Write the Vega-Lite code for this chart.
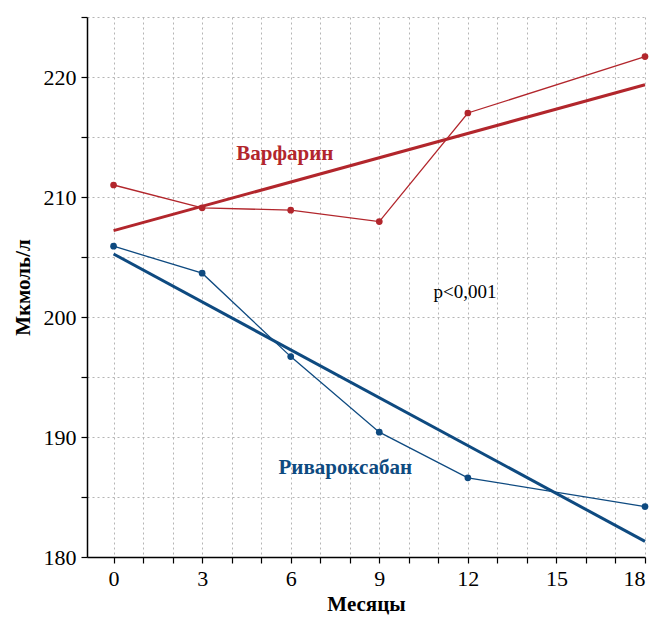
{
  "$schema": "https://vega.github.io/schema/vega-lite/v6.json",
  "autosize": "none",
  "width": 558,
  "height": 540,
  "padding": {"left": 87, "top": 17, "right": 12, "bottom": 60},
  "background": "white",
  "config": {
    "view": {"stroke": null},
    "font": "Liberation Serif",
    "axis": {
      "domainColor": "black",
      "domainWidth": 1.5,
      "tickColor": "black",
      "tickWidth": 1.2,
      "tickSize": 6,
      "gridColor": "#b5b5b5",
      "gridDash": [2, 3],
      "gridWidth": 1,
      "labelFont": "Liberation Serif",
      "labelFontSize": 22,
      "labelColor": "black",
      "titleFont": "Liberation Serif",
      "titleFontSize": 21,
      "titleFontWeight": "bold",
      "titleColor": "black"
    }
  },
  "datasets": {
    "obs": [
      {"month": 0, "value": 211.0, "group": "Варфарин"},
      {"month": 3, "value": 209.1, "group": "Варфарин"},
      {"month": 6, "value": 208.9, "group": "Варфарин"},
      {"month": 9, "value": 207.95, "group": "Варфарин"},
      {"month": 12, "value": 217.0, "group": "Варфарин"},
      {"month": 18, "value": 221.7, "group": "Варфарин"},
      {"month": 0, "value": 205.9, "group": "Ривароксабан"},
      {"month": 3, "value": 203.65, "group": "Ривароксабан"},
      {"month": 6, "value": 196.7, "group": "Ривароксабан"},
      {"month": 9, "value": 190.4, "group": "Ривароксабан"},
      {"month": 12, "value": 186.6, "group": "Ривароксабан"},
      {"month": 18, "value": 184.2, "group": "Ривароксабан"}
    ],
    "trend": [
      {"month": 0, "value": 207.2, "group": "Варфарин"},
      {"month": 18, "value": 219.35, "group": "Варфарин"},
      {"month": 0, "value": 205.25, "group": "Ривароксабан"},
      {"month": 18, "value": 181.3, "group": "Ривароксабан"}
    ],
    "labels": [
      {"month": 5.8, "value": 213.6, "text": "Варфарин", "group": "Варфарин"},
      {"month": 7.85, "value": 187.4, "text": "Ривароксабан", "group": "Ривароксабан"}
    ],
    "pval": [
      {"month": 11.9, "value": 202.1, "text": "p<0,001"}
    ]
  },
  "encoding": {
    "x": {
      "field": "month",
      "type": "quantitative",
      "scale": {"domain": [-0.9, 18], "nice": false, "zero": false},
      "axis": {
        "title": "Месяцы",
        "values": [0,1,2,3,4,5,6,7,8,9,10,11,12,13,14,15,16,17,18],
        "labelExpr": "datum.value % 3 === 0 ? datum.label : ''",
        "labelPadding": 5,
        "titlePadding": 4
      }
    },
    "y": {
      "field": "value",
      "type": "quantitative",
      "scale": {"domain": [180, 225], "nice": false, "zero": false},
      "axis": {
        "title": "Мкмоль/л",
        "values": [180,185,190,195,200,205,210,215,220,225],
        "labelExpr": "datum.value % 10 === 0 ? datum.label : ''",
        "labelPadding": 5,
        "titlePadding": 10
      }
    },
    "color": {
      "field": "group",
      "type": "nominal",
      "scale": {"domain": ["Варфарин", "Ривароксабан"], "range": ["#b2262c", "#0e4a80"]},
      "legend": null
    }
  },
  "layer": [
    {
      "data": {"name": "obs"},
      "mark": {"type": "line", "strokeWidth": 1.3, "point": {"filled": true, "size": 45, "opacity": 1}}
    },
    {
      "data": {"name": "trend"},
      "mark": {"type": "line", "strokeWidth": 3}
    },
    {
      "data": {"name": "labels"},
      "mark": {"type": "text", "fontSize": 21, "fontWeight": "bold", "font": "Liberation Serif", "align": "center", "baseline": "middle"},
      "encoding": {"text": {"field": "text"}}
    },
    {
      "data": {"name": "pval"},
      "mark": {"type": "text", "fontSize": 19, "font": "Liberation Serif", "color": "black", "align": "center", "baseline": "middle"},
      "encoding": {"text": {"field": "text"}, "color": {"value": "black"}}
    }
  ]
}
